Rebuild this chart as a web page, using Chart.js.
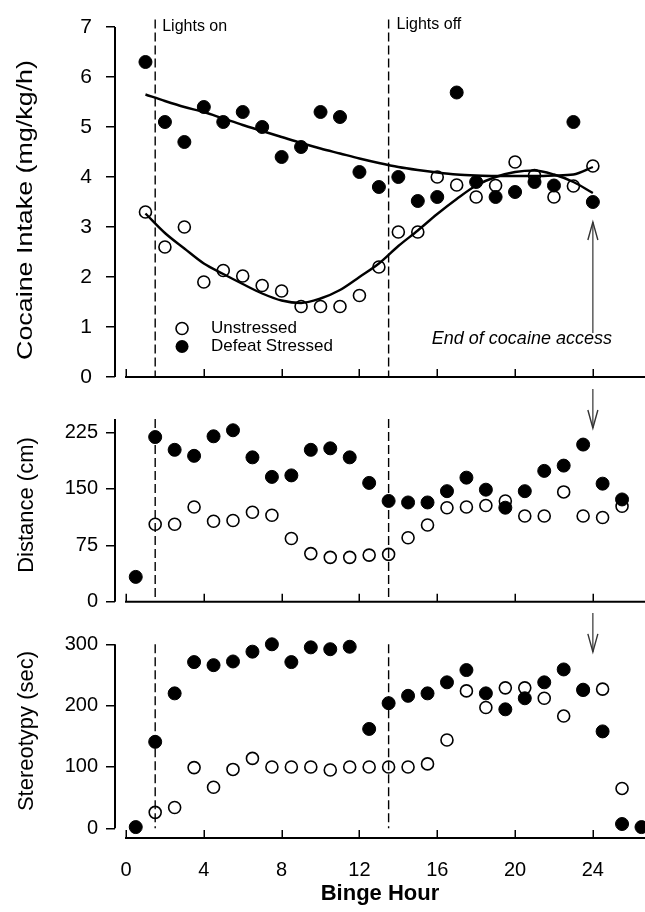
<!DOCTYPE html>
<html>
<head>
<meta charset="utf-8">
<script src="https://cdn.jsdelivr.net/npm/chart.js@4.4.1/dist/chart.umd.min.js"></script>
<style>
html,body{margin:0;padding:0;background:#fff;}
#wrap{position:relative;width:645px;height:912px;background:#fff;overflow:hidden;}
canvas{position:absolute;left:0;}
</style>
</head>
<body>
<div id="wrap">
  <canvas id="c1" width="645" height="405" style="top:0px"></canvas>
  <canvas id="c2" width="645" height="245" style="top:380px"></canvas>
  <canvas id="c3" width="645" height="307" style="top:605px"></canvas>
</div>
<script>
// ---------------- DATA ----------------
const xTickValues = [0, 4, 8, 12, 16, 20, 24];
const lightsOnHour = 1.5;
const lightsOffHour = 13.5;
const accessEndHour = 24;

// Panel 1: cocaine intake (mg/kg/h), hourly
const intakeHours = [1,2,3,4,5,6,7,8,9,10,11,12,13,14,15,16,17,18,19,20,21,22,23,24];
const intakeUnstressed = [3.3,2.6,3.0,1.9,2.13,2.02,1.83,1.72,1.41,1.41,1.41,1.63,2.2,2.9,2.9,4.0,3.84,3.6,3.83,4.3,4.03,3.6,3.82,4.22];
const intakeStressed = [6.3,5.1,4.7,5.4,5.1,5.3,5.0,4.4,4.6,5.3,5.2,4.1,3.8,4.0,3.52,3.6,5.69,3.9,3.6,3.7,3.9,3.83,5.1,3.5];
const fitUnstressed = [3.27,2.88,2.57,2.27,2.06,1.86,1.67,1.53,1.48,1.57,1.74,2.0,2.27,2.62,2.93,3.26,3.56,3.83,4.0,4.1,4.13,4.05,3.9,3.68];
const fitStressed = [5.65,5.52,5.4,5.3,5.17,5.04,4.92,4.8,4.68,4.57,4.47,4.37,4.28,4.2,4.14,4.09,4.05,4.03,4.02,4.02,4.02,4.03,4.05,4.2];
const intakeTicks = [0,1,2,3,4,5,6,7];

// Panel 2: distance (cm), half-hour bins
const distHours = [0.5,1.5,2.5,3.5,4.5,5.5,6.5,7.5,8.5,9.5,10.5,11.5,12.5,13.5,14.5,15.5,16.5,17.5,18.5,19.5,20.5,21.5,22.5,23.5,24.5,25.5];
const distStressed = [33,219,202,194,220,228,192,166,168,202,204,192,158,134,132,132,147,165,149,125,147,174,181,209,157,136];
const distUnstressed = [null,103,103,126,107,108,119,115,84,64,59,59,62,63,85,102,125,126,128,134,114,114,146,114,112,127];
const distTicks = [0,75,150,225];

// Panel 3: stereotypy (sec), half-hour bins
const sterHours = [0.5,1.5,2.5,3.5,4.5,5.5,6.5,7.5,8.5,9.5,10.5,11.5,12.5,13.5,14.5,15.5,16.5,17.5,18.5,19.5,20.5,21.5,22.5,23.5,24.5,25.5,26.5];
const sterStressed = [2,141,220,271,266,272,288,300,271,295,292,296,162,204,216,220,238,258,220,194,212,238,259,226,158,7,2];
const sterUnstressed = [null,26,34,99,67,96,114,100,100,100,95,100,100,100,100,105,144,224,197,229,229,212,183,225,227,65,null];
const sterTicks = [0,100,200,300];

// ---------------- STYLE ----------------
const FONT = '"Liberation Sans", Arial, Helvetica, sans-serif';
const X_MIN = -0.566, X_MAX = 26.68;

function pts(xs, ys){
  const out = [];
  xs.forEach((x,i)=>{ if (ys[i] !== null && ys[i] !== undefined) out.push({x:x, y:ys[i]}); });
  return out;
}
const openStyle = {pointStyle:'circle', pointRadius:6, pointBackgroundColor:'#fff', pointBorderColor:'#000', pointBorderWidth:1.6};
const fillStyle = {pointStyle:'circle', pointRadius:6.5, pointBackgroundColor:'#000', pointBorderColor:'#000', pointBorderWidth:1};

function pointSet(label, xs, ys, style, order){
  return Object.assign({label:label, data:pts(xs,ys), showLine:false, clip:false, order:order}, style);
}
function lineSet(label, xs, ys){
  return {label:label, data:pts(xs,ys), showLine:true, pointRadius:0, borderColor:'#000', borderWidth:2.4,
          tension:0.4, cubicInterpolationMode:'monotone', clip:false, order:0};
}

function drawArrow(ctx, x, yFrom, yTo){
  ctx.save();
  ctx.strokeStyle = '#333'; ctx.lineWidth = 1.2;
  ctx.beginPath(); ctx.moveTo(x, yFrom); ctx.lineTo(x, yTo); ctx.stroke();
  const dir = yTo < yFrom ? 1 : -1;
  ctx.lineWidth = 1.4;
  ctx.beginPath();
  ctx.moveTo(x-5, yTo + dir*18); ctx.lineTo(x, yTo); ctx.lineTo(x+5, yTo + dir*18);
  ctx.stroke();
  ctx.restore();
}

const decor = {
  id: 'decor',
  afterDatasetsDraw(chart, args, o){
    const ctx = chart.ctx, xs = chart.scales.x, ys = chart.scales.y, ca = chart.chartArea;
    ctx.save();
    ctx.strokeStyle = '#000';
    ctx.lineWidth = 2;
    ctx.lineCap = 'butt';
    // y axis line
    ctx.beginPath();
    ctx.moveTo(ca.left, ys.getPixelForValue(o.yTop));
    ctx.lineTo(ca.left, ys.getPixelForValue(0));
    ctx.stroke();
    // x axis line (starts at hour 0)
    ctx.beginPath();
    ctx.moveTo(xs.getPixelForValue(0) - 1, ca.bottom);
    ctx.lineTo(ca.right, ca.bottom);
    ctx.stroke();
    // inward x ticks
    ctx.lineWidth = 1.5;
    xTickValues.forEach(v=>{
      const px = Math.round(xs.getPixelForValue(v)) + 0.25;
      ctx.beginPath(); ctx.moveTo(px, ca.bottom); ctx.lineTo(px, ca.bottom - 8); ctx.stroke();
    });
    // dashed light lines
    ctx.lineWidth = 1.4;
    ctx.setLineDash([9,4]);
    [lightsOnHour, lightsOffHour].forEach(h=>{
      const px = xs.getPixelForValue(h);
      ctx.beginPath();
      ctx.moveTo(px, ys.getPixelForValue(o.dashTop));
      ctx.lineTo(px, ys.getPixelForValue(o.dashBottom));
      ctx.stroke();
    });
    ctx.setLineDash([]);
    // light labels
    if (o.lightLabels){
      ctx.fillStyle = '#000';
      ctx.font = '16px ' + FONT;
      ctx.textBaseline = 'middle';
      ctx.textAlign = 'left';
      ctx.fillText('Lights on', xs.getPixelForValue(lightsOnHour) + 7, ys.getPixelForValue(7.0));
      ctx.fillText('Lights off', xs.getPixelForValue(lightsOffHour) + 8, ys.getPixelForValue(7.04));
    }
    // legend
    if (o.legend){
      const mx = xs.getPixelForValue(2.88), tx = xs.getPixelForValue(4.37);
      const y1 = ys.getPixelForValue(0.97), y2 = ys.getPixelForValue(0.61);
      ctx.beginPath(); ctx.arc(mx, y1, 6, 0, Math.PI*2);
      ctx.fillStyle = '#fff'; ctx.fill(); ctx.lineWidth = 1.6; ctx.strokeStyle = '#000'; ctx.stroke();
      ctx.beginPath(); ctx.arc(mx, y2, 6.5, 0, Math.PI*2);
      ctx.fillStyle = '#000'; ctx.fill();
      ctx.font = '17px ' + FONT;
      ctx.textBaseline = 'middle'; ctx.textAlign = 'left';
      ctx.fillText('Unstressed', tx, y1);
      ctx.fillText('Defeat Stressed', tx, y2);
    }
    // end-of-access arrow
    if (o.arrow){
      const ax = xs.getPixelForValue(accessEndHour);
      drawArrow(ctx, ax, ys.getPixelForValue(o.arrow[0]), ys.getPixelForValue(o.arrow[1]));
    }
    if (o.endText){
      ctx.fillStyle = '#000';
      ctx.font = 'italic 18px ' + FONT;
      ctx.textBaseline = 'middle'; ctx.textAlign = 'center';
      ctx.fillText('End of cocaine access', xs.getPixelForValue(20.35), ys.getPixelForValue(0.76));
    }
    // y title
    if (o.title){
      const t = o.title;
      ctx.save();
      ctx.translate(t.x, t.y);
      ctx.rotate(-Math.PI/2);
      ctx.font = t.size + 'px ' + FONT;
      ctx.fillStyle = '#000';
      ctx.textAlign = 'center'; ctx.textBaseline = 'middle';
      if (t.len){
        const w = ctx.measureText(t.text).width;
        ctx.scale(t.len / w, 1);
      }
      ctx.fillText(t.text, 0, 0);
      ctx.restore();
    }
    ctx.restore();
  }
};

function makeScales(c){
  return {
    x: {
      type: 'linear', min: X_MIN, max: X_MAX,
      afterBuildTicks: s => { s.ticks = xTickValues.map(v => ({value: v})); },
      afterFit: s => { s.height = c.xHeight; },
      grid: {display: false, drawTicks: false},
      border: {display: false},
      ticks: {display: !!c.xLabels, color: '#000', font: {family: FONT, size: 20}, padding: 20, maxRotation: 0, autoSkip: false},
      title: c.xTitle ? {display: true, text: 'Binge Hour', color: '#000', font: {family: FONT, size: 22, weight: 'bold'}, padding: {top: 0, bottom: 5}} : {display: false}
    },
    y: {
      type: 'linear', min: c.yMin, max: c.yMax,
      afterBuildTicks: s => { s.ticks = c.yTicks.map(v => ({value: v})); },
      afterFit: s => { s.width = 115; },
      grid: {display: true, drawOnChartArea: false, drawTicks: true, tickLength: 9, color: '#000', lineWidth: 1.5},
      border: {display: false},
      ticks: {color: '#000', font: {family: FONT, size: c.yFont}, padding: c.yPad}
    }
  };
}

function makeChart(id, datasets, c, decorOpts){
  return new Chart(document.getElementById(id), {
    type: 'scatter',
    data: {datasets: datasets},
    options: {
      responsive: false,
      animation: false,
      devicePixelRatio: 1,
      layout: {autoPadding: false, padding: {top: c.padTop, left: 0, right: 0, bottom: 0}},
      plugins: {legend: {display: false}, tooltip: {enabled: false}, decor: decorOpts},
      scales: makeScales(c)
    },
    plugins: [decor]
  });
}

// Panel 1
makeChart('c1', [
  lineSet('Defeat Stressed fit', intakeHours, fitStressed),
  lineSet('Unstressed fit', intakeHours, fitUnstressed),
  pointSet('Defeat Stressed', intakeHours, intakeStressed, fillStyle, 1),
  pointSet('Unstressed', intakeHours, intakeUnstressed, openStyle, 2)
], {padTop: 27, xHeight: 28, yMin: 0, yMax: 7, yTicks: intakeTicks, yFont: 21, yPad: 14},
{yTop: 7, dashTop: 7.15, dashBottom: 0, lightLabels: true, legend: true, arrow: [0.88, 3.1], endText: true,
 title: {text: 'Cocaine Intake (mg/kg/h)', x: 26, y: 210, size: 22, len: 300}});

// Panel 2
makeChart('c2', [
  pointSet('Defeat Stressed', distHours, distStressed, fillStyle, 1),
  pointSet('Unstressed', distHours, distUnstressed, openStyle, 2)
], {padTop: 39, xHeight: 23.3, yMin: 0, yMax: 243, yTicks: distTicks, yFont: 20, yPad: 8},
{yTop: 243, dashTop: 243, dashBottom: 0, arrow: [283, 231],
 title: {text: 'Distance (cm)', x: 27, y: 125, size: 22}});

// Panel 3
makeChart('c3', [
  pointSet('Defeat Stressed', sterHours, sterStressed, fillStyle, 1),
  pointSet('Unstressed', sterHours, sterUnstressed, openStyle, 2)
], {padTop: 39.3, xHeight: 74, yMin: -15.8, yMax: 300, yTicks: sterTicks, yFont: 20, yPad: 8, xLabels: true, xTitle: true},
{yTop: 300, dashTop: 300, dashBottom: 0, arrow: [351, 287.6],
 title: {text: 'Stereotypy (sec)', x: 27, y: 126, size: 22}});
</script>
</body>
</html>
